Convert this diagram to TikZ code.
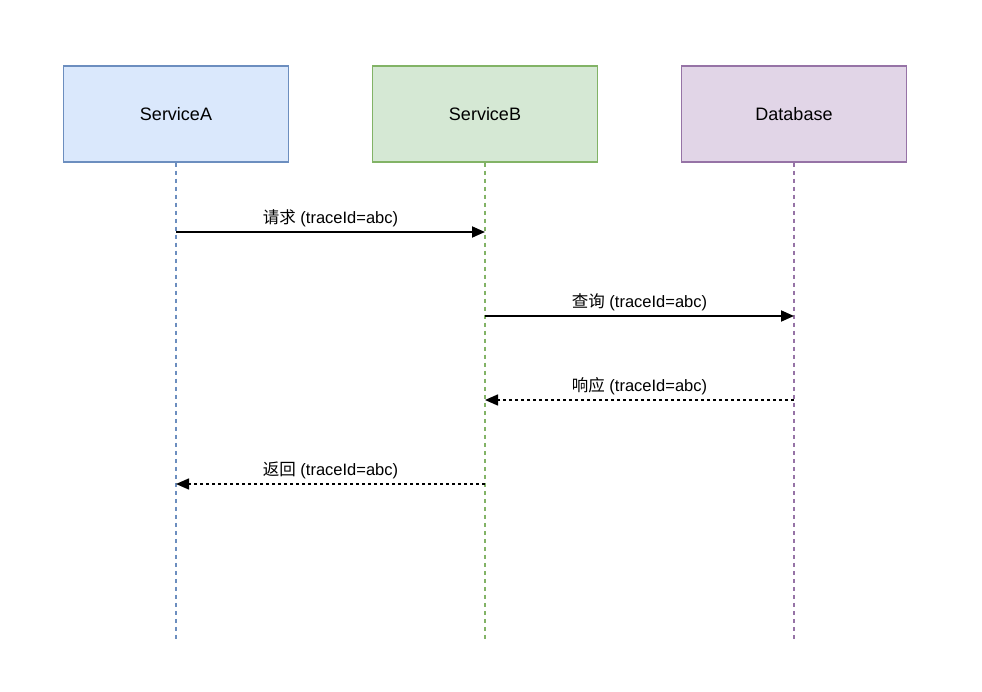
\documentclass[tikz,border=0pt]{standalone}
\usepackage{fontspec}
\setmainfont{Liberation Sans}
\newfontfamily\cjk{Noto Sans CJK SC}
\usetikzlibrary{arrows.meta,positioning}
\definecolor{a-fill}{HTML}{DAE8FC}
\definecolor{a-line}{HTML}{6C8EBF}
\definecolor{b-fill}{HTML}{D5E8D4}
\definecolor{b-line}{HTML}{82B366}
\definecolor{db-fill}{HTML}{E1D5E7}
\definecolor{db-line}{HTML}{9673A6}

\begin{document}
\begin{tikzpicture}[x=1pt, y=-1pt,
    actor/.style={draw, line width=1.5pt, minimum width=225pt, minimum height=96pt,
        font=\fontsize{18}{22}\selectfont},
    lifeline/.style={line width=1.2pt, dash pattern=on 4pt off 4pt},
    call/.style={line width=1.8pt, -{Triangle[length=13pt,width=11pt]}},
    reply/.style={line width=1.5pt, dash pattern=on 3pt off 3pt, -{Triangle[length=13pt,width=11pt]}},
    msg/.style={above=1pt, font=\fontsize{16.5}{20}\selectfont}]
    \useasboundingbox (0,0) rectangle (982,692);
    % participants
    \node[actor, fill=a-fill, draw=a-line] (svcA) at (176,114) {ServiceA};
    \node[actor, fill=b-fill, draw=b-line] (svcB) at (485,114) {ServiceB};
    \node[actor, fill=db-fill, draw=db-line] (db) at (794,114) {Database};
    % lifelines
    \coordinate (svcA end) at (176,640);
    \coordinate (svcB end) at (485,640);
    \coordinate (db end) at (794,640);
    \draw[lifeline, a-line] (svcA) -- (svcA end);
    \draw[lifeline, b-line] (svcB) -- (svcB end);
    \draw[lifeline, db-line] (db) -- (db end);
    % message points
    \coordinate (a1) at (176,232);
    \coordinate (b1) at (485,232);
    \coordinate (b2) at (485,316);
    \coordinate (db2) at (794,316);
    \coordinate (b3) at (485,400);
    \coordinate (db3) at (794,400);
    \coordinate (a4) at (176,484);
    \coordinate (b4) at (485,484);
    % messages
    \draw[call] (a1) -- node[msg] {{\cjk 请求} (traceId=abc)} (b1);
    \draw[call] (b2) -- node[msg] {{\cjk 查询} (traceId=abc)} (db2);
    \draw[reply] (db3) -- node[msg] {{\cjk 响应} (traceId=abc)} (b3);
    \draw[reply] (b4) -- node[msg] {{\cjk 返回} (traceId=abc)} (a4);
\end{tikzpicture}
\end{document}
